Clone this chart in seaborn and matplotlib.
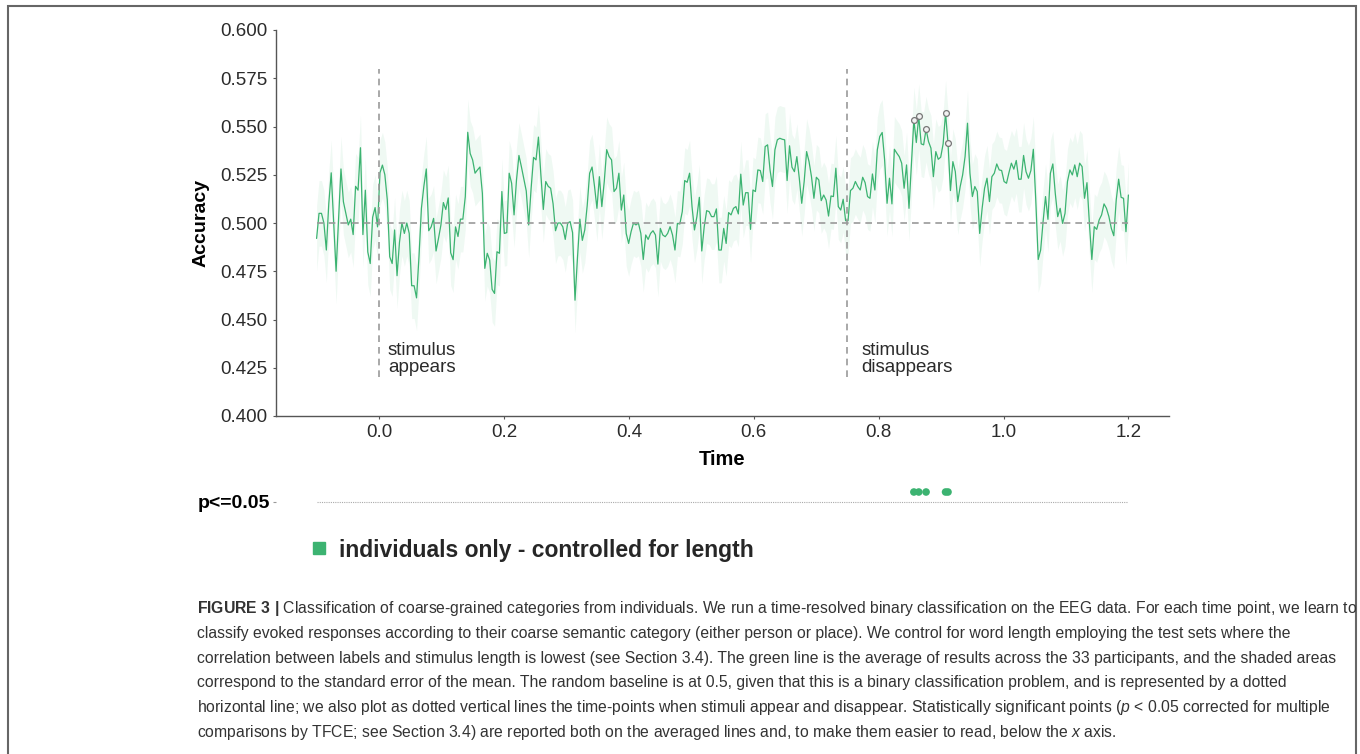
import numpy as np
import pandas as pd
import matplotlib
matplotlib.use("Agg")
import matplotlib.pyplot as plt
import seaborn as sns
from matplotlib.patches import Rectangle
from matplotlib.lines import Line2D

# ---------------- data ----------------
acc_pre = [0.492, 0.505, 0.505, 0.500, 0.486, 0.510, 0.526, 0.500, 0.475, 0.502,
           0.528, 0.511, 0.505, 0.499, 0.502, 0.494, 0.519, 0.517, 0.539, 0.494,
           0.517, 0.485, 0.479, 0.503, 0.508, 0.498]
acc_early = [0.526, 0.530, 0.525, 0.512, 0.4825, 0.479, 0.4964, 0.4727, 0.490, 0.500,
             0.4946, 0.500, 0.4946, 0.4675, 0.4675, 0.4612, 0.4825, 0.5076, 0.519, 0.528,
             0.496, 0.498, 0.5024, 0.4855, 0.492, 0.499, 0.5106, 0.507, 0.513, 0.4846,
             0.481, 0.498, 0.493]
acc_mid1 = [0.502, 0.502, 0.5137, 0.547, 0.536, 0.5327, 0.5258, 0.5275, 0.529, 0.5154,
            0.4765, 0.4843, 0.4808, 0.4656, 0.4635, 0.4851, 0.4843, 0.5163, 0.4946, 0.495,
            0.5258, 0.5206, 0.5042, 0.5223, 0.535, 0.5292, 0.5228, 0.5166, 0.499, 0.518,
            0.534, 0.5327, 0.5445, 0.525, 0.507, 0.5215, 0.519, 0.518, 0.510, 0.496,
            0.500, 0.500, 0.498, 0.4915, 0.500, 0.5007, 0.495, 0.460, 0.4817, 0.502,
            0.491, 0.4964, 0.509, 0.5258, 0.529, 0.519, 0.5076, 0.524, 0.5085, 0.5215,
            0.538, 0.5344, 0.5327, 0.5163, 0.518, 0.5258, 0.5067, 0.5145, 0.4946, 0.4894,
            0.4955, 0.500, 0.499, 0.500]
acc_mid2 = [0.4946, 0.4811, 0.4938, 0.4915, 0.4946, 0.496, 0.4938, 0.4787, 0.4972, 0.4938,
            0.4929, 0.4946, 0.4981, 0.4938, 0.486, 0.4998, 0.4995, 0.5059, 0.522, 0.5211,
            0.5258, 0.5085, 0.4964, 0.5033, 0.5133, 0.4855, 0.4981, 0.5064, 0.5059, 0.5033,
            0.5033, 0.5073, 0.486, 0.486, 0.4972, 0.4894, 0.5054, 0.5042, 0.5076, 0.5085,
            0.5047, 0.5253, 0.5093, 0.5157, 0.5157, 0.4967, 0.5171, 0.5163, 0.5275, 0.5272,
            0.5215, 0.5396, 0.5405, 0.5275, 0.5189, 0.5379, 0.5431, 0.5439, 0.5434, 0.5431,
            0.522, 0.540, 0.5289, 0.5266, 0.5344, 0.5232, 0.5102, 0.5215, 0.537, 0.5318,
            0.524, 0.5128, 0.5237, 0.5223]
acc_late = [0.5116, 0.5145, 0.5119, 0.5036, 0.514, 0.5137, 0.5284, 0.5085, 0.5067, 0.5123,
            0.5012, 0.5012, 0.5168, 0.518, 0.5215, 0.5189, 0.5171, 0.5237, 0.5209, 0.5137,
            0.5128, 0.5254, 0.5171, 0.5379, 0.5448, 0.5469, 0.5327, 0.5102, 0.5232, 0.5099,
            0.5382, 0.5362, 0.5344, 0.531, 0.518, 0.5301, 0.5076, 0.5301, 0.5535, 0.5417,
            0.5552, 0.541, 0.5405, 0.5486, 0.5422, 0.5388, 0.524, 0.537, 0.533, 0.5341,
            0.541, 0.5569, 0.5413, 0.5168, 0.5318, 0.5266, 0.5111, 0.5189, 0.5249, 0.5344,
            0.5517, 0.5258, 0.5137, 0.5189, 0.5163, 0.4946, 0.5076, 0.518, 0.5232, 0.5111,
            0.524, 0.5258, 0.5306, 0.5275]
acc_end = [0.5272, 0.5215, 0.5206, 0.5261, 0.531, 0.5279, 0.5324, 0.5227, 0.5227, 0.535,
           0.5266, 0.5232, 0.5272, 0.5382, 0.5119, 0.4811, 0.486, 0.5007, 0.5137, 0.5019,
           0.5258, 0.5306, 0.5154, 0.5033, 0.5076, 0.4998, 0.505, 0.5215, 0.5275, 0.5249,
           0.5301, 0.524, 0.531, 0.5292, 0.5128, 0.5209, 0.4998, 0.4811, 0.4981, 0.4967,
           0.5016, 0.5042, 0.5099, 0.5076, 0.5033, 0.4972, 0.4934, 0.5119, 0.5227, 0.5133,
           0.5128, 0.4955, 0.5145]
sem = 0.017
t_start, t_end = -0.1, 1.2
sig_times = [0.856, 0.864, 0.876, 0.906, 0.910]
events = [0.0, 0.75]
event_labels = ["stimulus\nappears", "stimulus\ndisappears"]
baseline = 0.5
yticks = [0.400, 0.425, 0.450, 0.475, 0.500, 0.525, 0.550, 0.575, 0.600]
xticks = [0.0, 0.2, 0.4, 0.6, 0.8, 1.0, 1.2]
legend_label = "individuals only - controlled for length"
sig_label = "p<=0.05"
caption = [
    r"$\mathbf{FIGURE\ 3\ |}$ Classification of coarse-grained categories from individuals. We run a time-resolved binary classification on the EEG data. For each time point, we learn to",
    "classify evoked responses according to their coarse semantic category (either person or place). We control for word length employing the test sets where the",
    "correlation between labels and stimulus length is lowest (see Section 3.4). The green line is the average of results across the 33 participants, and the shaded areas",
    "correspond to the standard error of the mean. The random baseline is at 0.5, given that this is a binary classification problem, and is represented by a dotted",
    r"horizontal line; we also plot as dotted vertical lines the time-points when stimuli appear and disappear. Statistically significant points ($\mathit{p}$ < 0.05 corrected for multiple",
    r"comparisons by TFCE; see Section 3.4) are reported both on the averaged lines and, to make them easier to read, below the $\mathit{x}$ axis.",
]

# ---------------- style ----------------
sns.set_style("ticks")
plt.rcParams['font.family'] = ['Liberation Sans', 'DejaVu Sans']
plt.rcParams['mathtext.fontset'] = 'custom'
plt.rcParams['mathtext.rm'] = 'Liberation Sans'
plt.rcParams['mathtext.it'] = 'Liberation Sans:italic'
plt.rcParams['mathtext.bf'] = 'Liberation Sans:bold'

green = "#3cb371"
dark = "#2b2b2b"
W, H = 1360, 754

def fx(px):
    return px / W

def fy(py):
    return 1 - py / H

acc = np.array(acc_pre + acc_early + acc_mid1 + acc_mid2 + acc_late + acc_end)
times = np.linspace(t_start, t_end, len(acc))
sig_idx = np.abs(times[:, None] - np.array(sig_times)[None, :]).argmin(axis=0)
df = pd.DataFrame({"Time": times, "Accuracy": acc})

fig = plt.figure(figsize=(W / 100, H / 100), dpi=100)
ax = fig.add_axes([fx(276), fy(416), fx(1169) - fx(276), fy(30) - fy(416)])

ax.fill_between(times, acc - sem, acc + sem, color=green, alpha=0.08, lw=0)
sns.lineplot(data=df, x="Time", y="Accuracy", ax=ax, color=green, lw=0.9)
ax.hlines(baseline, t_start, t_end, colors="#9a9a9a", linestyles=(0, (4, 3)), lw=1.2)
for ev, lab, off in zip(events, event_labels, [0.014, 0.022]):
    ax.vlines(ev, 0.42, 0.58, colors="#9a9a9a", linestyles=(0, (4, 3)), lw=1.2)
    ax.text(ev + off, 0.4205, lab, fontsize=13.5, color=dark, ha="left", va="bottom",
            linespacing=1.05)
ax.plot(times[sig_idx], acc[sig_idx], "o", ms=4.2, mfc="#f2f2f2", mec="#777777", mew=0.9)

ax.set_xlim(-0.165, 1.265)
ax.set_ylim(0.4, 0.6)
ax.set_yticks(yticks)
ax.set_yticklabels([f"{v:.3f}" for v in yticks])
ax.set_xticks(xticks)
ax.set_xticklabels([f"{v:.1f}" for v in xticks])
ax.tick_params(axis="both", labelsize=13.5, labelcolor=dark, color="#555555",
               length=2, width=0.8, pad=4)
ax.set_xlabel("Time", fontsize=14.5, fontweight="bold", color="black", labelpad=6)
ax.set_ylabel("Accuracy", fontsize=14, fontweight="bold", color="black", labelpad=8)
sns.despine(ax=ax)
for s in ["left", "bottom"]:
    ax.spines[s].set_color("#555555")
    ax.spines[s].set_linewidth(1.0)

# significance strip
ax2 = fig.add_axes([fx(276), fy(522), fx(1169) - fx(276), fy(482) - fy(522)])
ax2.hlines(0, t_start, t_end, colors="#aaaaaa", linestyles=(0, (1, 1)), lw=0.8)
sns.scatterplot(x=times[sig_idx], y=np.full(len(sig_idx), 0.5), ax=ax2, color=green,
                s=30, edgecolor="none", legend=False)
ax2.set_xlim(-0.165, 1.265)
ax2.set_ylim(-1, 1)
ax2.set_xticks([])
ax2.set_yticks([0])
ax2.set_yticklabels([sig_label], fontsize=14, fontweight="bold", color="black")
ax2.tick_params(axis="y", length=2, width=0.8, color="#999999", pad=2)
for s in ax2.spines.values():
    s.set_visible(False)

# legend
handle = Line2D([0], [0], marker="s", ls="", color=green, markersize=8.5)
fig.legend(handles=[handle], labels=[legend_label], loc="center left",
           bbox_to_anchor=(fx(308), fy(550)), frameon=False, handletextpad=0.35,
           borderaxespad=0, borderpad=0, handlelength=1.0,
           prop={"weight": "bold", "size": 16.5, "family": ["Liberation Sans"]})

# frame and caption
fig.add_artist(Rectangle((fx(8), fy(770)), fx(1356) - fx(8), fy(6) - fy(770),
                         transform=fig.transFigure, fill=False, ec="#666666", lw=1.5))
cap_texts = []
for i, line in enumerate(caption):
    cap_texts.append(fig.text(fx(197), fy(609 + 24.6 * i), line, fontsize=12.6,
                              color="#333333", ha="left", va="center"))
# fit the first caption line to the reference width (197 -> 1356 px)
fig.canvas.draw()
renderer = fig.canvas.get_renderer()
w0 = cap_texts[0].get_window_extent(renderer).width
scale = (1356 - 197) / w0
for t in cap_texts:
    t.set_fontsize(12.6 * scale)

fig.savefig("out.png", dpi=100)
